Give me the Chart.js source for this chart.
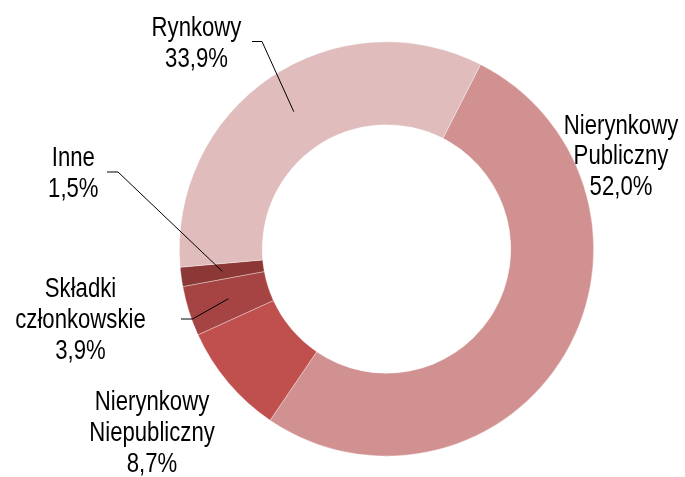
<!DOCTYPE html>
<html>
<head>
<meta charset="utf-8">
<script src="https://cdn.jsdelivr.net/npm/chart.js@4/dist/chart.umd.min.js"></script>
<style>
  body { margin: 0; background: #fff; }
  #wrap { width: 685px; height: 477px; }
</style>
</head>
<body>
<div id="wrap"><canvas id="fund-chart" width="685" height="477"></canvas></div>
<script>
const categories = ['Nierynkowy Publiczny', 'Nierynkowy Niepubliczny', 'Składki członkowskie', 'Inne', 'Rynkowy']
const shares = [52.0, 8.7, 3.9, 1.5, 33.9]
const sliceColors = ['#D19191', '#C0504D', '#A54442', '#8C3836', '#E0BCBC']

// label lines per slice (percent appended from shares)
const labelLines = [
  ['Nierynkowy', 'Publiczny'],
  ['Nierynkowy', 'Niepubliczny'],
  ['Składki', 'członkowskie'],
  ['Inne'],
  ['Rynkowy']
]
// label anchor: centre x, first baseline y
const labelAnchors = [[621, 133.5], [152, 410], [80.5, 297], [73.3, 166], [196.5, 36]]
// leader line: start of short horizontal, knee (null = no leader)
const leaders = [null, null, [181, 319, 192.5, 319], [107, 172, 118, 172], [252, 41.5, 262, 41.5]]

// no narrow font installed, so squeeze the regular one
const fontFamily = "'Liberation Sans', Arial, sans-serif"
const squeeze = 0.82
const lineGap = 30.8

const calloutPlugin = {
  id: 'callouts',
  afterDraw(chart) {
    const ctx = chart.ctx
    const arcs = chart.getDatasetMeta(0).data
    ctx.save()
    ctx.fillStyle = '#000'
    ctx.strokeStyle = '#000'
    ctx.lineWidth = 1
    ctx.font = '27px ' + fontFamily
    ctx.textAlign = 'center'
    ctx.textBaseline = 'alphabetic'
    shares.forEach((v, i) => {
      const pct = String(v.toFixed(1)).split('.').join(',') + '%'
      const lines = labelLines[i].concat([pct])
      const [ax, ay] = labelAnchors[i]
      lines.forEach((t, j) => {
        ctx.save()
        ctx.translate(ax, ay + j * lineGap)
        ctx.scale(squeeze, 1)
        ctx.fillText(t, 0, 0)
        ctx.restore()
      })
      const ld = leaders[i]
      if (ld) {
        const p = arcs[i].getCenterPoint()
        ctx.beginPath()
        ctx.moveTo(ld[0], ld[1])
        ctx.lineTo(ld[2], ld[3])
        ctx.lineTo(p.x, p.y)
        ctx.stroke()
      }
    })
    ctx.restore()
  }
}

new Chart(document.getElementById('fund-chart'), {
  type: 'doughnut',
  data: {
    labels: categories,
    datasets: [{
      data: shares,
      backgroundColor: sliceColors,
      borderColor: 'rgba(255, 255, 255, 0.45)',
      borderWidth: 0.75
    }]
  },
  options: {
    responsive: false,
    animation: false,
    rotation: 27,
    cutout: '60%',
    layout: {
      padding: { left: 179, right: 91, top: 41, bottom: 20 }
    },
    plugins: {
      legend: { display: false },
      tooltip: { enabled: false }
    }
  },
  plugins: [calloutPlugin]
})
</script>
</body>
</html>
